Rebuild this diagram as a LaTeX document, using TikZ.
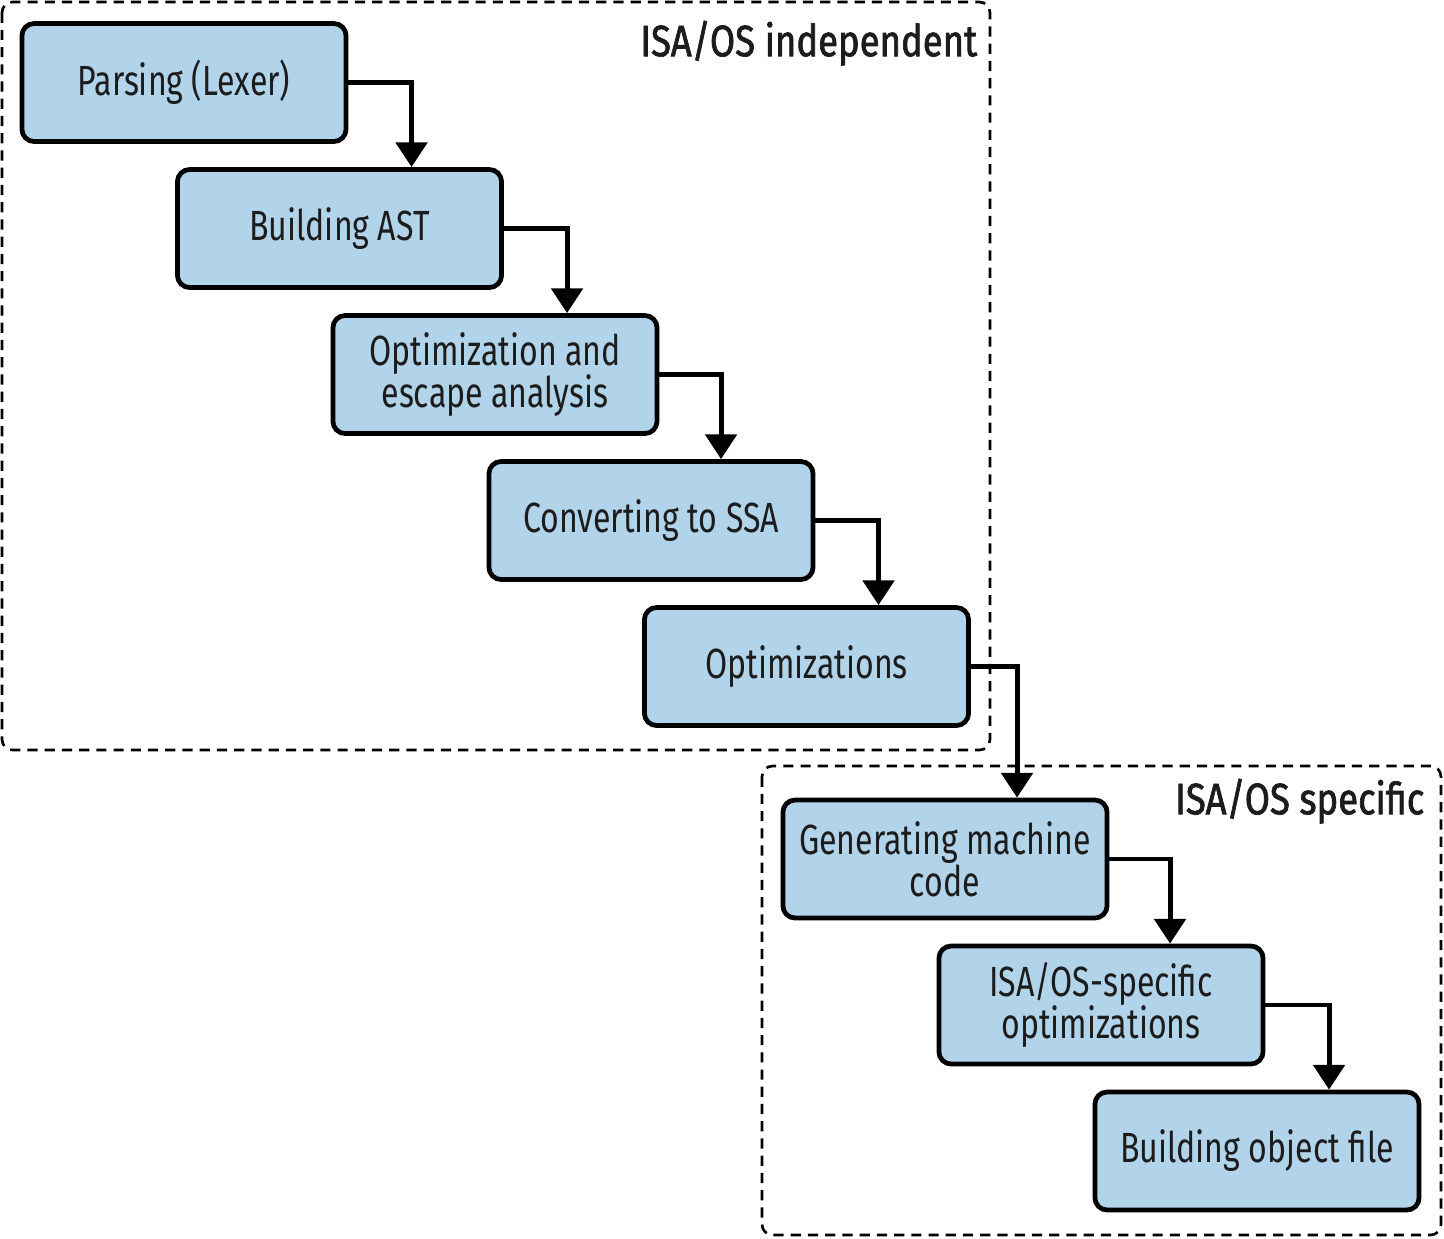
\documentclass[tikz,border=0pt]{standalone}
\usepackage{fontspec}
\setmainfont{Fira Sans}[FakeStretch=0.76]
\newfontfamily\regionfont{Fira Sans}[FakeStretch=0.83, FakeBold=1.6]
\usepackage{xcolor}
\usepackage{tikz}
\usetikzlibrary{positioning,arrows.meta}

\definecolor{stageblue}{RGB}{178,212,234}
\definecolor{stagetext}{RGB}{28,28,28}

\begin{document}
\begin{tikzpicture}[
  x=0.01cm, y=-0.01cm,
  stage/.style={rectangle, rounded corners=3.5pt, minimum width=3.24cm, minimum height=1.18cm,
                draw=black, line width=1.35pt, fill=stageblue, text=stagetext,
                font=\fontsize{12}{12}\selectfont, align=center, inner sep=0pt},
  region/.style={draw=black, line width=0.75pt, dash pattern=on 2.9pt off 2pt, rounded corners=3pt},
  regionlabel/.style={font=\regionfont\fontsize{12.5}{13}\selectfont, text=stagetext, anchor=north east, inner sep=0pt},
  arrow/.style={-{Triangle[width=8.8pt,length=7pt]}, line width=1.4pt}
]
\useasboundingbox (0,0) rectangle (1444,1238);

% Regions
\draw[region] (2,2) rectangle (990,750);
\draw[region] (762,766) rectangle (1441,1235);
\node[regionlabel] (indep) at (978,20) {ISA/OS independent};
\node[regionlabel] (spec) at (1425,778) {ISA/OS specific};

% Stages
\node[stage] (parse) at (184,82.5) {Parsing (Lexer)};
\node[stage] (ast) at (339.5,228.5) {Building AST};
\node[stage] (escape) at (495,374.5) {Optimization and\\escape analysis};
\node[stage] (ssa) at (651,520.5) {Converting to SSA};
\node[stage] (opt) at (806.5,666.5) {Optimizations};
\node[stage] (gen) at (945,859) {Generating machine\\code};
\node[stage] (isaopt) at (1101,1005) {ISA/OS-specific\\optimizations};
\node[stage] (obj) at (1257,1151) {Building object file};

% Connectors
\draw[arrow] (parse.east) -| ([xshift=0.72cm]ast.north);
\draw[arrow] (ast.east) -| ([xshift=0.72cm]escape.north);
\draw[arrow] (escape.east) -| ([xshift=0.70cm]ssa.north);
\draw[arrow] (ssa.east) -| ([xshift=0.72cm]opt.north);
\draw[arrow] (opt.east) -| ([xshift=0.72cm]gen.north);
\draw[arrow] (gen.east) -| ([xshift=0.69cm]isaopt.north);
\draw[arrow] (isaopt.east) -| ([xshift=0.72cm]obj.north);

\end{tikzpicture}
\end{document}
